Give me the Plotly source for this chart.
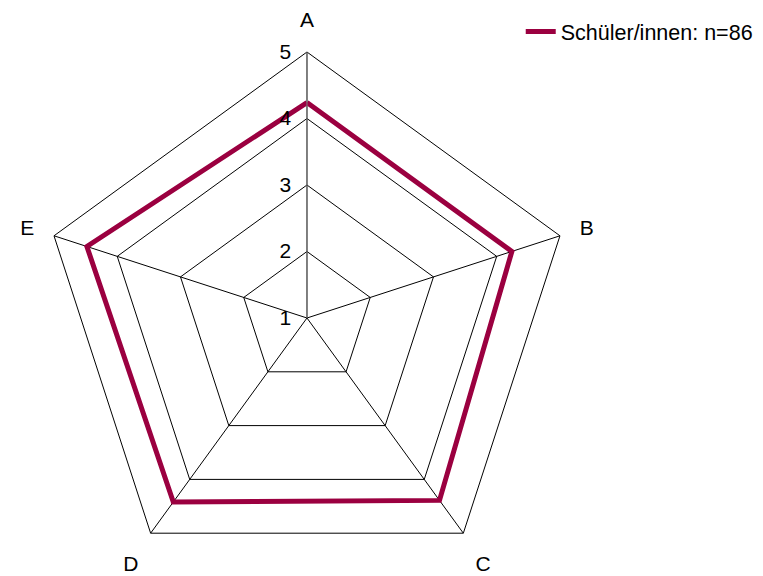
import plotly.graph_objects as go

categories = ["A", "B", "C", "D", "E"]
values = [4.24, 4.24, 4.39, 4.42, 4.48]
series_name = "Schüler/innen: n=86"
tick_vals = [1, 2, 3, 4, 5]

LINE_COLOR = "#9b0040"
FONT = "Liberation Sans, Arial, sans-serif"

fig = go.Figure()
fig.add_trace(go.Scatterpolar(
    r=values + values[:1], theta=categories + categories[:1],
    mode="lines", name=series_name,
    line=dict(color=LINE_COLOR, width=5),
))

fig.update_layout(
    width=763, height=576,
    paper_bgcolor="white", plot_bgcolor="white",
    font=dict(family=FONT, size=21, color="black"),
    margin=dict(l=0, r=0, t=44, b=0),
    showlegend=True,
    legend=dict(x=0.672, y=1.0, xanchor="left", yanchor="bottom",
                font=dict(size=21.5), bgcolor="rgba(0,0,0,0)"),
    polar=dict(
        domain=dict(x=[0.0432, 0.7405], y=[0, 1]),
        gridshape="linear",
        bgcolor="white",
        radialaxis=dict(range=[1, 5], tickvals=tick_vals, angle=90,
                        side="counterclockwise", tickangle=90,
                        showline=True, linecolor="#808080", linewidth=1,
                        gridcolor="black", gridwidth=1,
                        ticks="outside", ticklen=8, tickcolor="rgba(0,0,0,0)"),
        angularaxis=dict(direction="clockwise", rotation=90,
                         linecolor="black", linewidth=1,
                         gridcolor="black", gridwidth=1,
                         ticks="outside", ticklen=16, tickcolor="rgba(0,0,0,0)"),
    ),
)

fig.write_html("out.html")
